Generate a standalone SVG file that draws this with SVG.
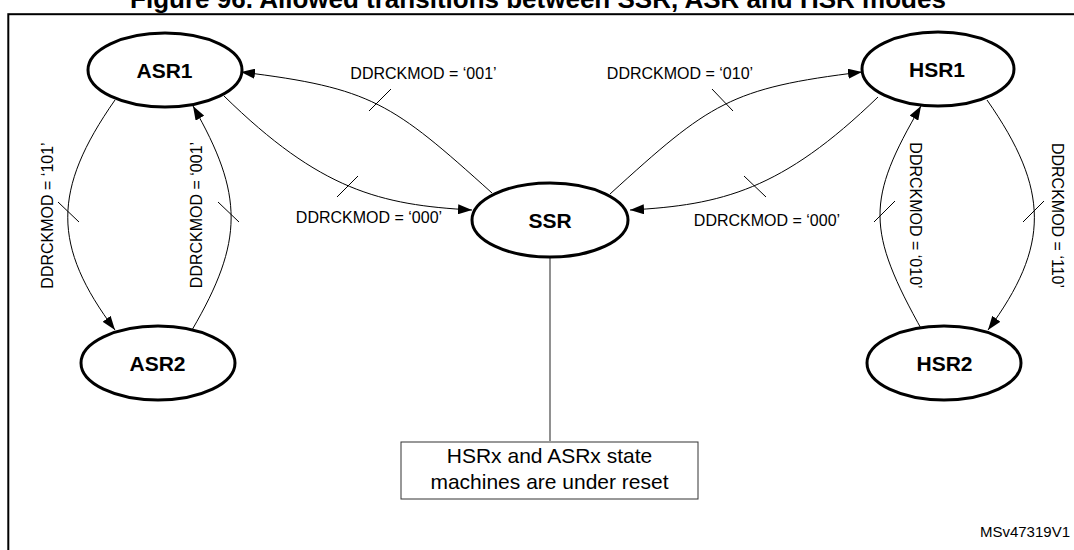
<svg xmlns="http://www.w3.org/2000/svg" width="1074" height="550" viewBox="0 0 1074 550">
<style>
.st{fill:#fff;stroke:#000;stroke-width:3}
.nl{font-family:"Liberation Sans",Arial,sans-serif;font-weight:bold;font-size:21px;text-anchor:middle;fill:#000}
.lb{font-family:"Liberation Sans",Arial,sans-serif;font-size:16px;text-anchor:middle;fill:#000}
.cv{fill:none;stroke:#000;stroke-width:1}
.ar{marker-end:url(#arr)}
.tk{stroke:#000;stroke-width:1}
</style>
<defs>
<marker id="arr" viewBox="0 0 14 10" refX="14" refY="5" markerWidth="14" markerHeight="10" markerUnits="userSpaceOnUse" orient="auto">
<path d="M0,0 L14,5 L0,10 z" fill="#000"/>
</marker>
</defs>
<rect width="1074" height="550" fill="#fff"/>
<text x="538" y="7.5" font-family="Liberation Sans,Arial,sans-serif" font-weight="bold" font-size="26" text-anchor="middle">Figure 96. Allowed transitions between SSR, ASR and HSR modes</text>
<rect x="8.3" y="14.2" width="1100" height="600" fill="none" stroke="#000" stroke-width="2"/>
<g id="connectors">
<path class="cv ar" d="M492,193 C392,103 372,88 241,72"/>
<path class="cv ar" d="M224,96 C320,190 380,205 472,210"/>
<path class="cv ar" d="M610,194 C710,103 730,88 862,72"/>
<path class="cv ar" d="M878,97 C782,190 722,205 630,210"/>
<path class="cv ar" d="M115,100 C52,190 52,246 115,330"/>
<path class="cv ar" d="M192,330 C244,241 244,195 193,106"/>
<path class="cv ar" d="M923,332 C866,230 866,200 921,106"/>
<path class="cv ar" d="M987,100 C1050,190 1050,246 988,330"/>
<line class="tk" x1="369" y1="111" x2="391" y2="89"/>
<line class="tk" x1="337" y1="197" x2="358" y2="176"/>
<line class="tk" x1="712" y1="89" x2="733" y2="111"/>
<line class="tk" x1="744" y1="176" x2="766" y2="197"/>
<line class="tk" x1="58" y1="202" x2="79" y2="222"/>
<line class="tk" x1="218" y1="202" x2="239" y2="222"/>
<line class="tk" x1="874" y1="222" x2="895" y2="201"/>
<line class="tk" x1="1023" y1="222" x2="1044" y2="201"/>
<line x1="550" y1="257" x2="550" y2="441" stroke="#555" stroke-width="1.3"/>
<text class="lb" x="423.5" y="79">DDRCKMOD = ‘001’</text>
<text class="lb" x="369" y="223">DDRCKMOD = ‘000’</text>
<text class="lb" x="680" y="79">DDRCKMOD = ‘010’</text>
<text class="lb" x="767" y="226">DDRCKMOD = ‘000’</text>
<text class="lb" x="52.5" y="215.5" transform="rotate(-90 52.5 215.5)">DDRCKMOD = ‘101’</text>
<text class="lb" x="201.5" y="215" transform="rotate(-90 201.5 215)">DDRCKMOD = ‘001’</text>
<text class="lb" x="910" y="215.5" transform="rotate(90 910 215.5)">DDRCKMOD = ‘010’</text>
<text class="lb" x="1052" y="215.5" transform="rotate(90 1052 215.5)">DDRCKMOD = ‘110’</text>
</g>
<g id="ASR1"><ellipse class="st" cx="165" cy="70" rx="77" ry="37"/><text class="nl" x="164.5" y="77.5">ASR1</text></g>
<g id="ASR2"><ellipse class="st" cx="158" cy="363" rx="77" ry="37"/><text class="nl" x="157.5" y="370.5">ASR2</text></g>
<g id="SSR"><ellipse class="st" cx="550" cy="220" rx="78" ry="37"/><text class="nl" x="550" y="227.5">SSR</text></g>
<g id="HSR1"><ellipse class="st" cx="938" cy="69" rx="76" ry="37"/><text class="nl" x="937" y="76.5">HSR1</text></g>
<g id="HSR2"><ellipse class="st" cx="944" cy="363" rx="77" ry="37"/><text class="nl" x="944.5" y="370.5">HSR2</text></g>
<g id="note">
<rect x="401" y="442" width="297" height="57" fill="#fff" stroke="#333" stroke-width="1"/>
<text x="549.5" y="463" font-family="Liberation Sans,Arial,sans-serif" font-size="21" text-anchor="middle">HSRx and ASRx state</text>
<text x="549.5" y="489" font-family="Liberation Sans,Arial,sans-serif" font-size="21" text-anchor="middle">machines are under reset</text>
</g>
<text x="1070" y="537" font-family="Liberation Sans,Arial,sans-serif" font-size="15" text-anchor="end">MSv47319V1</text>
</svg>
